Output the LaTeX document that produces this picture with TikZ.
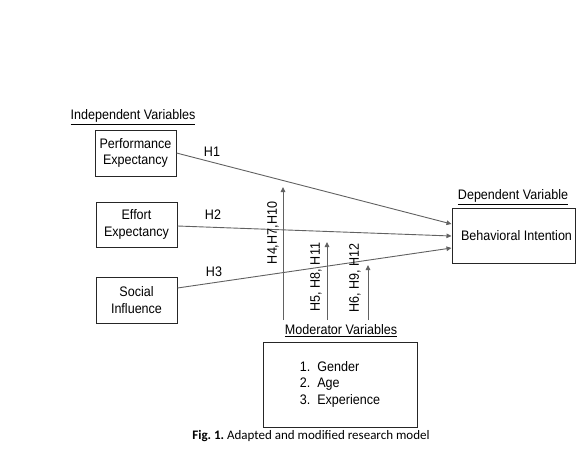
\documentclass[tikz,border=0pt]{standalone}
\usepackage{fontspec}
\setmainfont{Liberation Sans}[FakeStretch=0.91]
\newfontfamily\capfont{Carlito}
\usetikzlibrary{arrows.meta,calc}
\frenchspacing
\begin{document}
\begin{tikzpicture}[x=1pt,y=-1pt,
 box/.style={draw=black!85, line width=1pt, inner sep=0pt, align=center, font=\fontsize{13.8}{16.5}\selectfont},
 lbl/.style={font=\fontsize{13.8}{15}\selectfont, inner sep=0pt},
 conn/.style={draw=black!62, line width=0.9pt, -{Triangle[length=5pt,width=4.5pt]}},
]
\useasboundingbox (0,0) rectangle (587,466);
% headings
\node[lbl] (iv) at (133,117) {\underline{Independent Variables}};
\node[lbl] (dv) at (513,197) {\underline{Dependent Variable}};
\node[lbl] (mv) at (341,331) {\underline{Moderator Variables}};
% boxes
\node[box, minimum width=81pt, minimum height=46pt] (PE) at (135.5,153) {Performance\\Expectancy};
\node[box, minimum width=81pt, minimum height=45pt] (EE) at (136.5,224.5) {Effort\\Expectancy};
\node[box, minimum width=81pt, minimum height=46pt] (SI) at (136.5,300) {Social\\Influence};
\node[box, minimum width=123pt, minimum height=55pt] (BI) at (513.5,235.5) {\hspace{6pt}Behavioral Intention};
\node[box, minimum width=154pt, minimum height=85pt] (MB) at (340,384.5) {%
  \begin{tabular}{@{}r@{\hspace{7pt}}l@{}}
  1. & Gender\\[0pt]
  2. & Age\\[0pt]
  3. & Experience
  \end{tabular}};
% main paths
\draw[conn] (PE.east) -- ([yshift=11.5pt]BI.west);
\draw[conn] ([yshift=-1.5pt]EE.east) -- ([yshift=-0.5pt]BI.west);
\draw[conn] ([yshift=12pt]SI.east) -- ([yshift=-12.5pt]BI.west);
\node[lbl] (h1) at (212,152) {H1};
\node[lbl] (h2) at (213,215) {H2};
\node[lbl] (h3) at (214,272) {H3};
% moderator arrows
\coordinate (m1s) at (283,320); \coordinate (m1e) at (283,187);
\coordinate (m2s) at (327,320); \coordinate (m2e) at (327,242);
\coordinate (m3s) at (368,320); \coordinate (m3e) at (368,265);
\draw[conn] (m1s) -- (m1e);
\draw[conn] (m2s) -- (m2e);
\draw[conn] (m3s) -- (m3e);
\node[lbl, rotate=90] (l1) at (273,233) {H4,H7,H10};
\node[lbl, rotate=90] (l2) at (316,277) {H5, H8, H11};
\node[lbl, rotate=90] (l3) at (355,278) {H6, H9, H12};
% caption
\node[inner sep=0pt, font=\capfont\fontsize{13}{15}\selectfont] (cap) at (311,436) {\textbf{Fig. 1.} Adapted and modified research model};
\end{tikzpicture}
\end{document}
